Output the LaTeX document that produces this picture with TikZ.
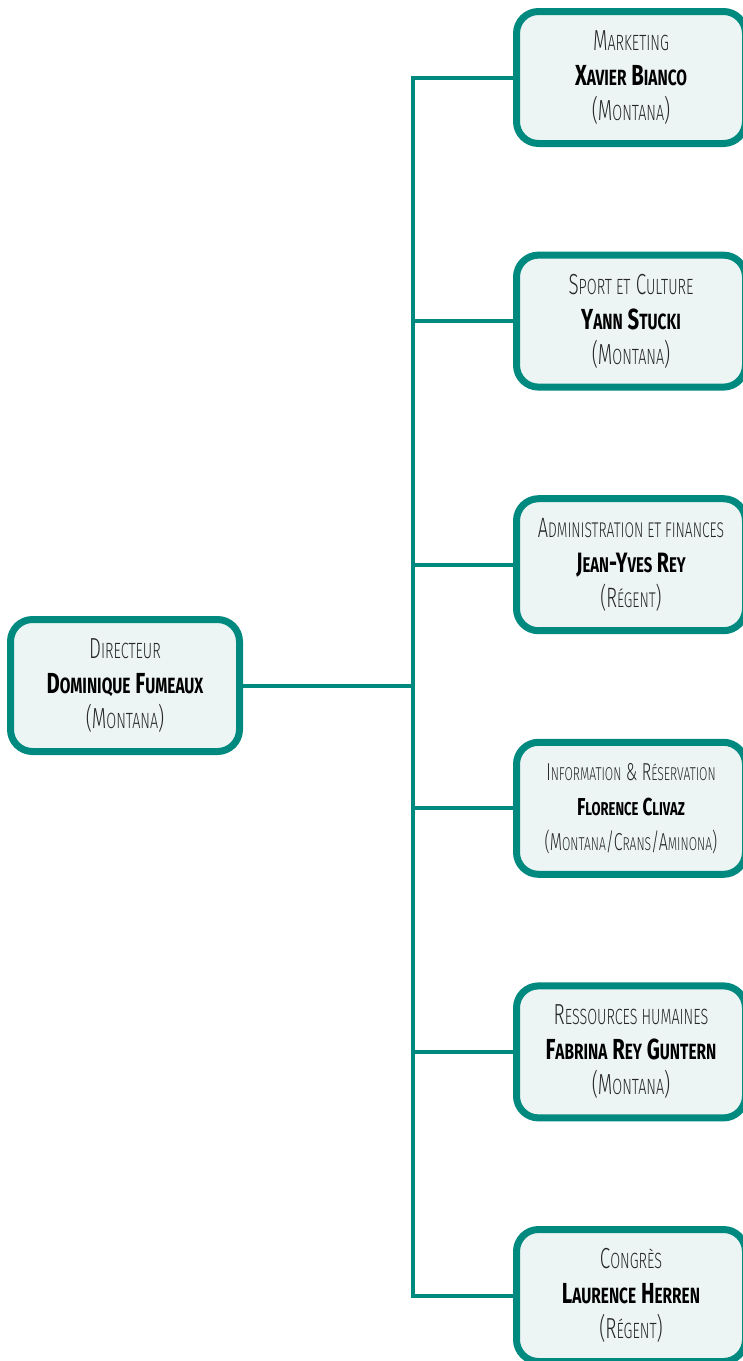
\documentclass[tikz,border=0pt]{standalone}
\usepackage{fontspec}
\setmainfont{Fira Sans Light}[FakeStretch=0.65,BoldFont={Fira Sans Bold},BoldFeatures={FakeStretch=0.70}]
\usetikzlibrary{positioning}
\definecolor{teal}{HTML}{00897F}
\definecolor{boxfill}{HTML}{EDF5F4}
\definecolor{ink}{HTML}{262626}
\def\smlsize{22}
\newcommand\sml[1]{{\fontsize{\smlsize}{35}\selectfont #1}}
\newcommand\who[1]{{\bfseries\color{black}#1}}
\begin{document}
\begin{tikzpicture}[
	x=1pt,y=-1pt,
	line cap=round,
	line join=round,
	textsize/.style={font=\fontsize{#1}{35}\selectfont\pgfmathsetmacro\smlsize{0.76*#1}},
	unitbox/.style={draw=teal,fill=boxfill,line width=7pt,rounded corners=22pt,
		minimum width=229pt,minimum height=132pt,inner sep=0pt,align=center,
		text=ink,textsize=29},
	link/.style={draw=teal,line width=4pt,line cap=butt}
	]
	\useasboundingbox (0,0) rectangle (743,1361);
	% director on the left
	\node[unitbox] (dir) at (125,685.5) {D\sml{IRECTEUR}\\\who{D\sml{OMINIQUE} F\sml{UMEAUX}}\\(M\sml{ONTANA})};
	% departments on the right
	\node[unitbox] (mkt) at (631,77.5) {M\sml{ARKETING}\\\who{X\sml{AVIER} B\sml{IANCO}}\\(M\sml{ONTANA})};
	\node[unitbox] (spo) at (631,321.1) {S\sml{PORT ET} C\sml{ULTURE}\\\who{Y\sml{ANN} S\sml{TUCKI}}\\(M\sml{ONTANA})};
	\node[unitbox,textsize=28] (adm) at (631,564.7) {A\sml{DMINISTRATION ET FINANCES}\\\who{J\sml{EAN}-Y\sml{VES} R\sml{EY}}\\(R\sml{ÉGENT})};
	\node[unitbox,textsize=24.5] (inf) at (631,808.3) {I\sml{NFORMATION} \& R\sml{ÉSERVATION}\\\who{F\sml{LORENCE} C\sml{LIVAZ}}\\(M\sml{ONTANA}/C\sml{RANS}/A\sml{MINONA})};
	\node[unitbox] (rh) at (631,1051.9) {R\sml{ESSOURCES HUMAINES}\\\who{F\sml{ABRINA} R\sml{EY} G\sml{UNTERN}}\\(M\sml{ONTANA})};
	\node[unitbox] (cong) at (631,1295.5) {C\sml{ONGRÈS}\\\who{L\sml{AURENCE} H\sml{ERREN}}\\(R\sml{ÉGENT})};
	% connectors
	\coordinate (hub) at (413,685.5);
	\draw[link] (dir.east) -- (hub);
	\draw[link,line cap=rect] (hub |- mkt) -- (hub |- cong);
	\foreach \d in {mkt,spo,adm,inf,rh,cong}
		\draw[link] (hub |- \d) -- (\d.west);
\end{tikzpicture}
\end{document}
